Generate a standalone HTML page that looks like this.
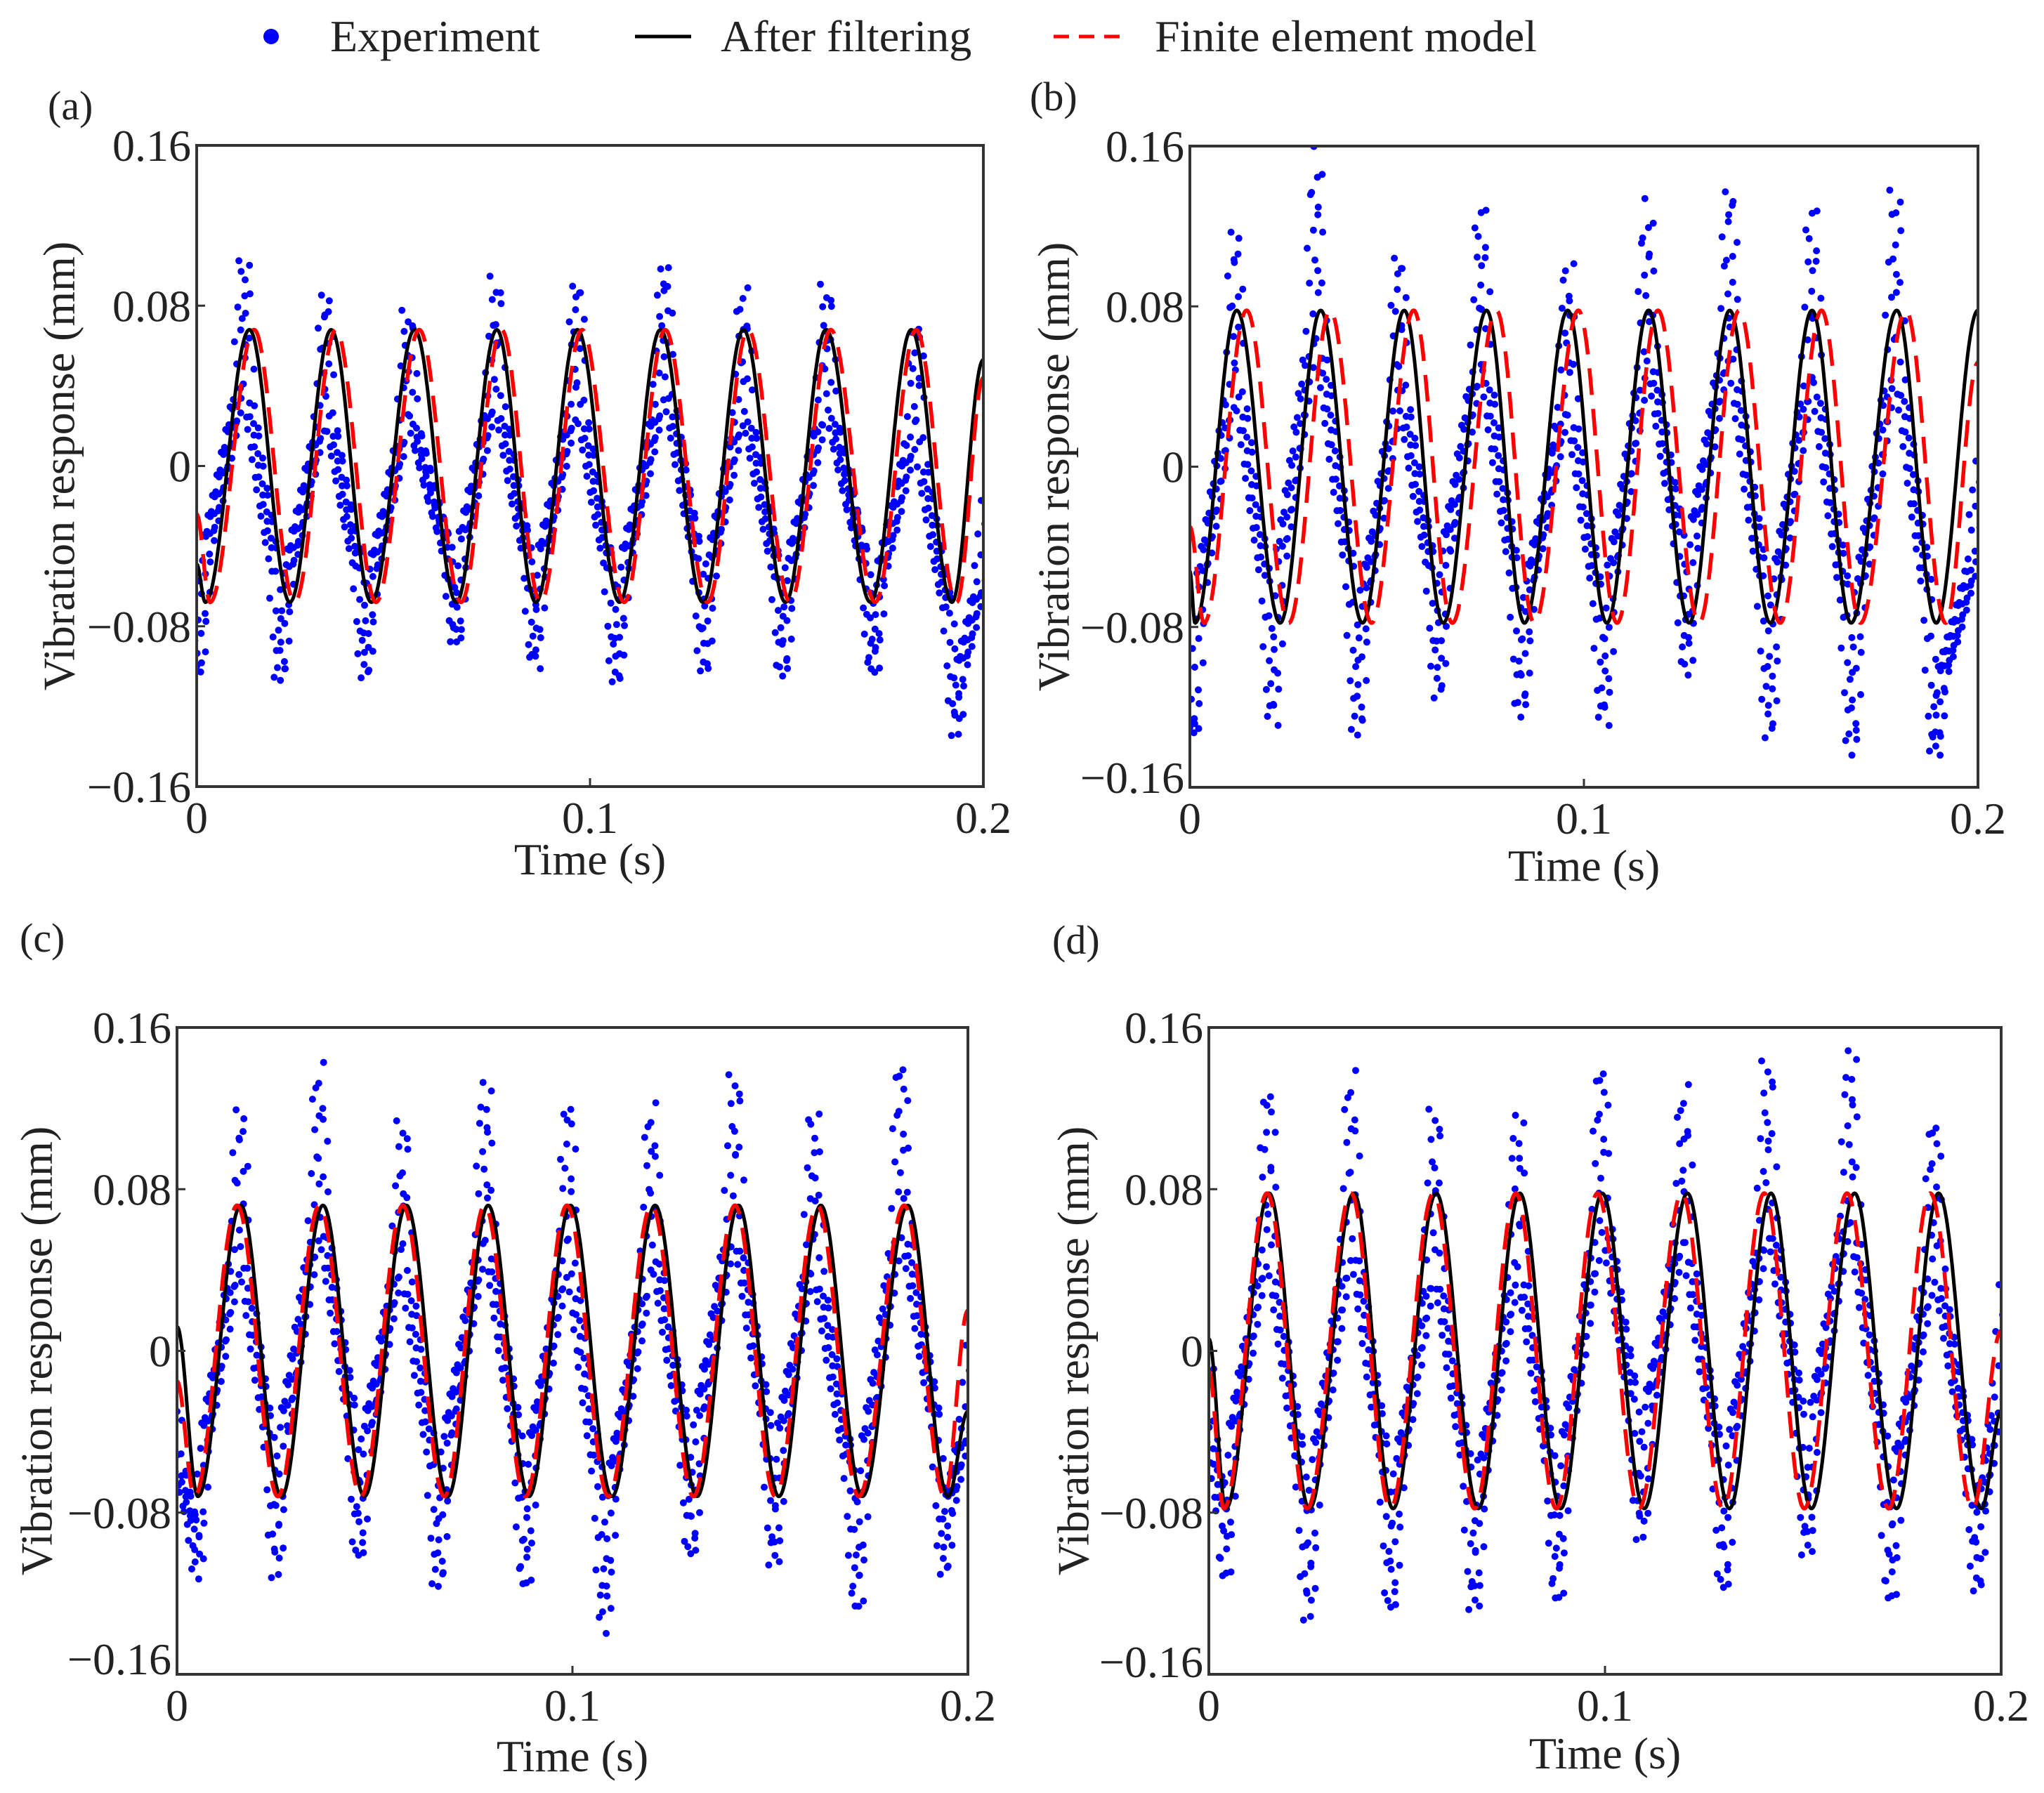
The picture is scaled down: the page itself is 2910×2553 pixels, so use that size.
<!DOCTYPE html>
<html><head><meta charset="utf-8">
<style>
html,body{margin:0;padding:0;background:#fff;}
svg{display:block;font-family:"Liberation Serif","DejaVu Serif",serif;}
</style></head>
<body>
<svg id="fig" width="2910" height="2553" viewBox="0 0 2910 2553" xmlns="http://www.w3.org/2000/svg">
  <g>
    <circle cx="386" cy="52" r="11" fill="#0000ff"/>
    <text x="470" y="73" font-size="64" fill="#222">Experiment</text>
    <line x1="904" y1="52" x2="984" y2="52" stroke="#000" stroke-width="5"/>
    <text x="1026" y="73" font-size="64" fill="#222">After filtering</text>
    <line x1="1500" y1="52" x2="1594" y2="52" stroke="#ff0000" stroke-width="5" stroke-dasharray="22,14"/>
    <text x="1644" y="73" font-size="64" fill="#222">Finite element model</text>
  </g>
</svg>
<script>
const xTicks=[0,0.1,0.2];
const xTickLabels=['0','0.1','0.2'];
const yTicks=[0.16,0.08,0,-0.08,-0.16];
const yTickLabels=['0.16','0.08','0','\u22120.08','\u22120.16'];

const aFiltT=[0,0.0022,0.0134,0.0237,0.0342,0.0444,0.0554,0.066,0.0763,0.0862,0.0968,0.1075,0.1179,0.1287,0.139,0.1497,0.160,0.1713,0.1817,0.192,0.2];
const aFiltV=[-0.049,-0.068,0.068,-0.068,0.068,-0.068,0.068,-0.068,0.068,-0.068,0.068,-0.068,0.068,-0.068,0.068,-0.068,0.068,-0.068,0.068,-0.068,0.053];
const aFemT=[0,0.0034,0.0146,0.0249,0.0354,0.0456,0.0566,0.0672,0.0775,0.0874,0.098,0.1087,0.1191,0.1299,0.1402,0.1509,0.1612,0.1725,0.1829,0.1932,0.2];
const aFemV=[-0.024,-0.068,0.068,-0.068,0.068,-0.068,0.068,-0.068,0.068,-0.068,0.068,-0.068,0.068,-0.068,0.068,-0.068,0.068,-0.068,0.068,-0.068,0.044];
const aExpT=[0.0005,0.0121,0.0212,0.0328,0.0428,0.0536,0.066,0.076,0.0859,0.0967,0.1066,0.119,0.129,0.139,0.149,0.160,0.172,0.183,0.193,0.2];
const aExpV=[-0.10,0.105,-0.109,0.087,-0.106,0.077,-0.09,0.094,-0.101,0.094,-0.109,0.102,-0.104,0.089,-0.106,0.09,-0.104,0.073,-0.134,-0.02];

const bFiltT=[0,0.0013,0.0119,0.0229,0.0332,0.0438,0.0544,0.0643,0.0753,0.0849,0.0959,0.1058,0.1164,0.1267,0.137,0.1473,0.1579,0.1678,0.1794,0.1894,0.2];
const bFiltV=[-0.052,-0.078,0.078,-0.078,0.078,-0.078,0.078,-0.078,0.078,-0.078,0.078,-0.078,0.078,-0.078,0.078,-0.078,0.078,-0.078,0.078,-0.078,0.078];
const bFemT=[0,0.0036,0.0144,0.0251,0.0356,0.0461,0.0568,0.0666,0.0778,0.0874,0.0986,0.1084,0.1188,0.1292,0.1394,0.1498,0.1603,0.1702,0.1817,0.1918,0.2];
const bFemV=[-0.03,-0.078,0.078,-0.078,0.078,-0.078,0.078,-0.078,0.078,-0.078,0.078,-0.078,0.078,-0.078,0.078,-0.078,0.078,-0.078,0.078,-0.078,0.052];
const bExpT=[0.001,0.0115,0.021,0.032,0.0425,0.053,0.063,0.074,0.084,0.096,0.105,0.116,0.126,0.137,0.147,0.158,0.168,0.179,0.189,0.2];
const bExpV=[-0.13,0.12,-0.13,0.157,-0.136,0.108,-0.115,0.131,-0.125,0.102,-0.13,0.131,-0.104,0.141,-0.135,0.131,-0.144,0.14,-0.145,0.0];

const cFiltT=[0,0.0053,0.0161,0.0264,0.0369,0.0474,0.058,0.0685,0.0787,0.089,0.0995,0.110,0.1209,0.1315,0.142,0.1522,0.1628,0.1733,0.1848,0.195,0.2];
const cFiltV=[0.012,-0.072,0.072,-0.072,0.072,-0.072,0.072,-0.072,0.072,-0.072,0.072,-0.072,0.072,-0.072,0.072,-0.072,0.072,-0.072,0.072,-0.072,-0.03];
const cFemT=[0,0.0044,0.0152,0.0255,0.036,0.0465,0.0571,0.0676,0.0778,0.0881,0.0986,0.1091,0.12,0.1306,0.1411,0.1513,0.1619,0.1724,0.1839,0.1941,0.2];
const cFemV=[-0.015,-0.072,0.072,-0.072,0.072,-0.072,0.072,-0.072,0.072,-0.072,0.072,-0.072,0.072,-0.072,0.072,-0.072,0.072,-0.072,0.072,-0.072,0.02];
const cExpT=[0,0.005,0.016,0.025,0.036,0.046,0.057,0.066,0.078,0.088,0.099,0.108,0.120,0.130,0.141,0.151,0.161,0.172,0.183,0.194,0.2];
const cExpV=[-0.03,-0.111,0.121,-0.112,0.141,-0.104,0.115,-0.119,0.134,-0.118,0.125,-0.137,0.121,-0.103,0.138,-0.108,0.12,-0.129,0.144,-0.111,0.0];

const dFiltT=[0,0.0043,0.0152,0.0254,0.0366,0.0465,0.0574,0.068,0.0785,0.0888,0.0993,0.1099,0.1208,0.1314,0.1419,0.1521,0.163,0.1736,0.1842,0.195,0.2];
const dFiltV=[0.006,-0.078,0.078,-0.078,0.078,-0.078,0.078,-0.078,0.078,-0.078,0.078,-0.078,0.078,-0.078,0.078,-0.078,0.078,-0.078,0.078,-0.078,-0.03];
const dFemT=[0,0.0038,0.0147,0.0248,0.0359,0.0458,0.0567,0.0671,0.0775,0.0877,0.0981,0.1086,0.1194,0.1298,0.1402,0.1503,0.1611,0.1716,0.1821,0.1928,0.2];
const dFemV=[-0.01,-0.078,0.078,-0.078,0.078,-0.078,0.078,-0.078,0.078,-0.078,0.078,-0.078,0.078,-0.078,0.078,-0.078,0.078,-0.078,0.078,-0.078,0.01];
const dExpT=[0,0.004,0.015,0.025,0.036,0.046,0.057,0.067,0.078,0.088,0.099,0.109,0.120,0.130,0.141,0.151,0.162,0.172,0.183,0.194,0.2];
const dExpV=[0.0,-0.114,0.131,-0.133,0.137,-0.13,0.121,-0.13,0.118,-0.125,0.142,-0.093,0.13,-0.12,0.145,-0.103,0.15,-0.125,0.115,-0.12,0.03];

const panels=[
 {id:'a',L:280,R:1400,T:207,B:1120,lab:'(a)',lx:68,ly:170,yt:84,xt:1245,bot:22,filtT:aFiltT,filtV:aFiltV,femT:aFemT,femV:aFemV,expT:aExpT,expV:aExpV},
 {id:'b',L:1694,R:2816,T:208,B:1121,lab:'(b)',lx:1466,ly:157,yt:1500,xt:1254,bot:8,filtT:bFiltT,filtV:bFiltV,femT:bFemT,femV:bFemV,expT:bExpT,expV:bExpV},
 {id:'c',L:252,R:1378,T:1463,B:2384,lab:'(c)',lx:28,ly:1355,yt:52,xt:2522,bot:0,filtT:cFiltT,filtV:cFiltV,femT:cFemT,femV:cFemV,expT:cExpT,expV:cExpV},
 {id:'d',L:1721,R:2849,T:1463,B:2384,lab:'(d)',lx:1498,ly:1358,yt:1528,xt:2518,bot:4,filtT:dFiltT,filtV:dFiltV,femT:dFemT,femV:dFemV,expT:dExpT,expV:dExpV}
];

const NS='http://www.w3.org/2000/svg';
const svg=document.getElementById('fig');
function mk(tag,attrs,parent){const e=document.createElementNS(NS,tag);for(const k in attrs)e.setAttribute(k,attrs[k]);parent.appendChild(e);return e;}

function cosInterp(T,V,t){
  for(let i=0;i<T.length-1;i++){
    if(t>=T[i]&&t<=T[i+1]){const u=(t-T[i])/(T[i+1]-T[i]);return V[i]+(V[i+1]-V[i])*(1-Math.cos(Math.PI*u))/2;}
  }
  return t<T[0]?V[0]:V[V.length-1];
}
const riseU=[0,0.2,0.5,0.85,1], riseG=[0,0.3,0.45,0.65,1];
const fallU=[0,0.15,0.5,0.8,1], fallG=[0,0.35,0.55,0.7,1];
function lin(U,G,u){for(let i=0;i<U.length-1;i++){if(u<=U[i+1]){const w=(u-U[i])/(U[i+1]-U[i]);return G[i]+(G[i+1]-G[i])*w;}}return 1;}
function expInterp(T,V,t){
  if(t<=T[0])return V[0];
  for(let i=0;i<T.length-1;i++){
    if(t<=T[i+1]){const u=(t-T[i])/(T[i+1]-T[i]);const g=V[i+1]>V[i]?lin(riseU,riseG,u):lin(fallU,fallG,u);return V[i]+(V[i+1]-V[i])*g;}
  }
  return V[V.length-1];
}

panels.forEach(p=>{
  const xs=t=>p.L+(t-0)/(0.2-0)*(p.R-p.L);
  const ys=v=>p.B-(v+0.16)/0.32*(p.B-p.T);
  const g=mk('g',{},svg);
  
  
  const cp=mk('clipPath',{id:'clip'+p.id},g);
  mk('rect',{x:p.L,y:p.T,width:p.R-p.L,height:p.B-p.T},cp);

  const lab=mk('text',{x:p.lx,y:p.ly,'font-size':58,fill:'#222'},g);
  lab.textContent=p.lab;
  
  

  const dg=mk('g',{'clip-path':'url(#clip'+p.id+')',fill:'#0000ff'},g);
  
  
  const jit=[[0,0],[6,-5],[-6,5],[3,8],[-3,-8],[8,2],[-8,-2]];
  let k=0;
  for(let t=0;t<=0.2;t+=0.00016){
    const v=expInterp(p.expT,p.expV,t);
    const j=jit[k%jit.length];k++;
    const c=mk('circle',{cx:(xs(t)+j[0]).toFixed(1),cy:(ys(v)+j[1]).toFixed(1),r:5},dg);
    
    
  }
  function curve(T,V){let d='';for(let t=0;t<=0.20001;t+=0.0002){const v=cosInterp(T,V,Math.min(t,0.2));d+=(d?'L':'M')+xs(Math.min(t,0.2)).toFixed(1)+','+ys(v).toFixed(1);}return d;}
  const fl=mk('path',{d:curve(p.filtT,p.filtV),fill:'none',stroke:'#000',"stroke-width":5,'clip-path':'url(#clip'+p.id+')'},g);
  
  
  const fe=mk('path',{d:curve(p.femT,p.femV),fill:'none',stroke:'#ff0000',"stroke-width":5.5,'stroke-dasharray':'38,20','clip-path':'url(#clip'+p.id+')'},g);
  
  

  const fr=mk('rect',{x:p.L,y:p.T,width:p.R-p.L,height:p.B-p.T,fill:'none',stroke:'#333',"stroke-width":4},g);
  
  

  yTicks.forEach((v,i)=>{
    const y=ys(v);
    if(i>0&&i<yTicks.length-1){const tk=mk('line',{x1:p.L,x2:p.L+12,y1:y,y2:y,stroke:'#333',"stroke-width":3},g);
      
      }
    let ty=y+22; if(i===yTicks.length-1)ty=y+p.bot;
    const tl=mk('text',{x:p.L-8,y:ty,'font-size':64,'text-anchor':'end',fill:'#222'},g);
    tl.textContent=yTickLabels[i];
    
    
  });
  xTicks.forEach((v,i)=>{
    const x=xs(v);
    if(i>0&&i<xTicks.length-1){const tk=mk('line',{x1:x,x2:x,y1:p.B,y2:p.B-12,stroke:'#333',"stroke-width":3},g);
      
      }
    const tl=mk('text',{x:x,y:p.B+66,'font-size':64,'text-anchor':'middle',fill:'#222'},g);
    tl.textContent=xTickLabels[i];
    
    
  });
  const xt=mk('text',{x:(p.L+p.R)/2,y:p.xt,'font-size':64,'text-anchor':'middle',fill:'#222'},g);
  xt.textContent='Time (s)';
  
  
  const cy=(p.T+p.B)/2;
  const yt=mk('text',{x:p.yt,y:cy,'font-size':64,'text-anchor':'middle','dominant-baseline':'central',fill:'#222',transform:'rotate(-90 '+p.yt+' '+cy+')'},g);
  yt.textContent='Vibration response (mm)';
  
  
});
</script>
</body></html>
